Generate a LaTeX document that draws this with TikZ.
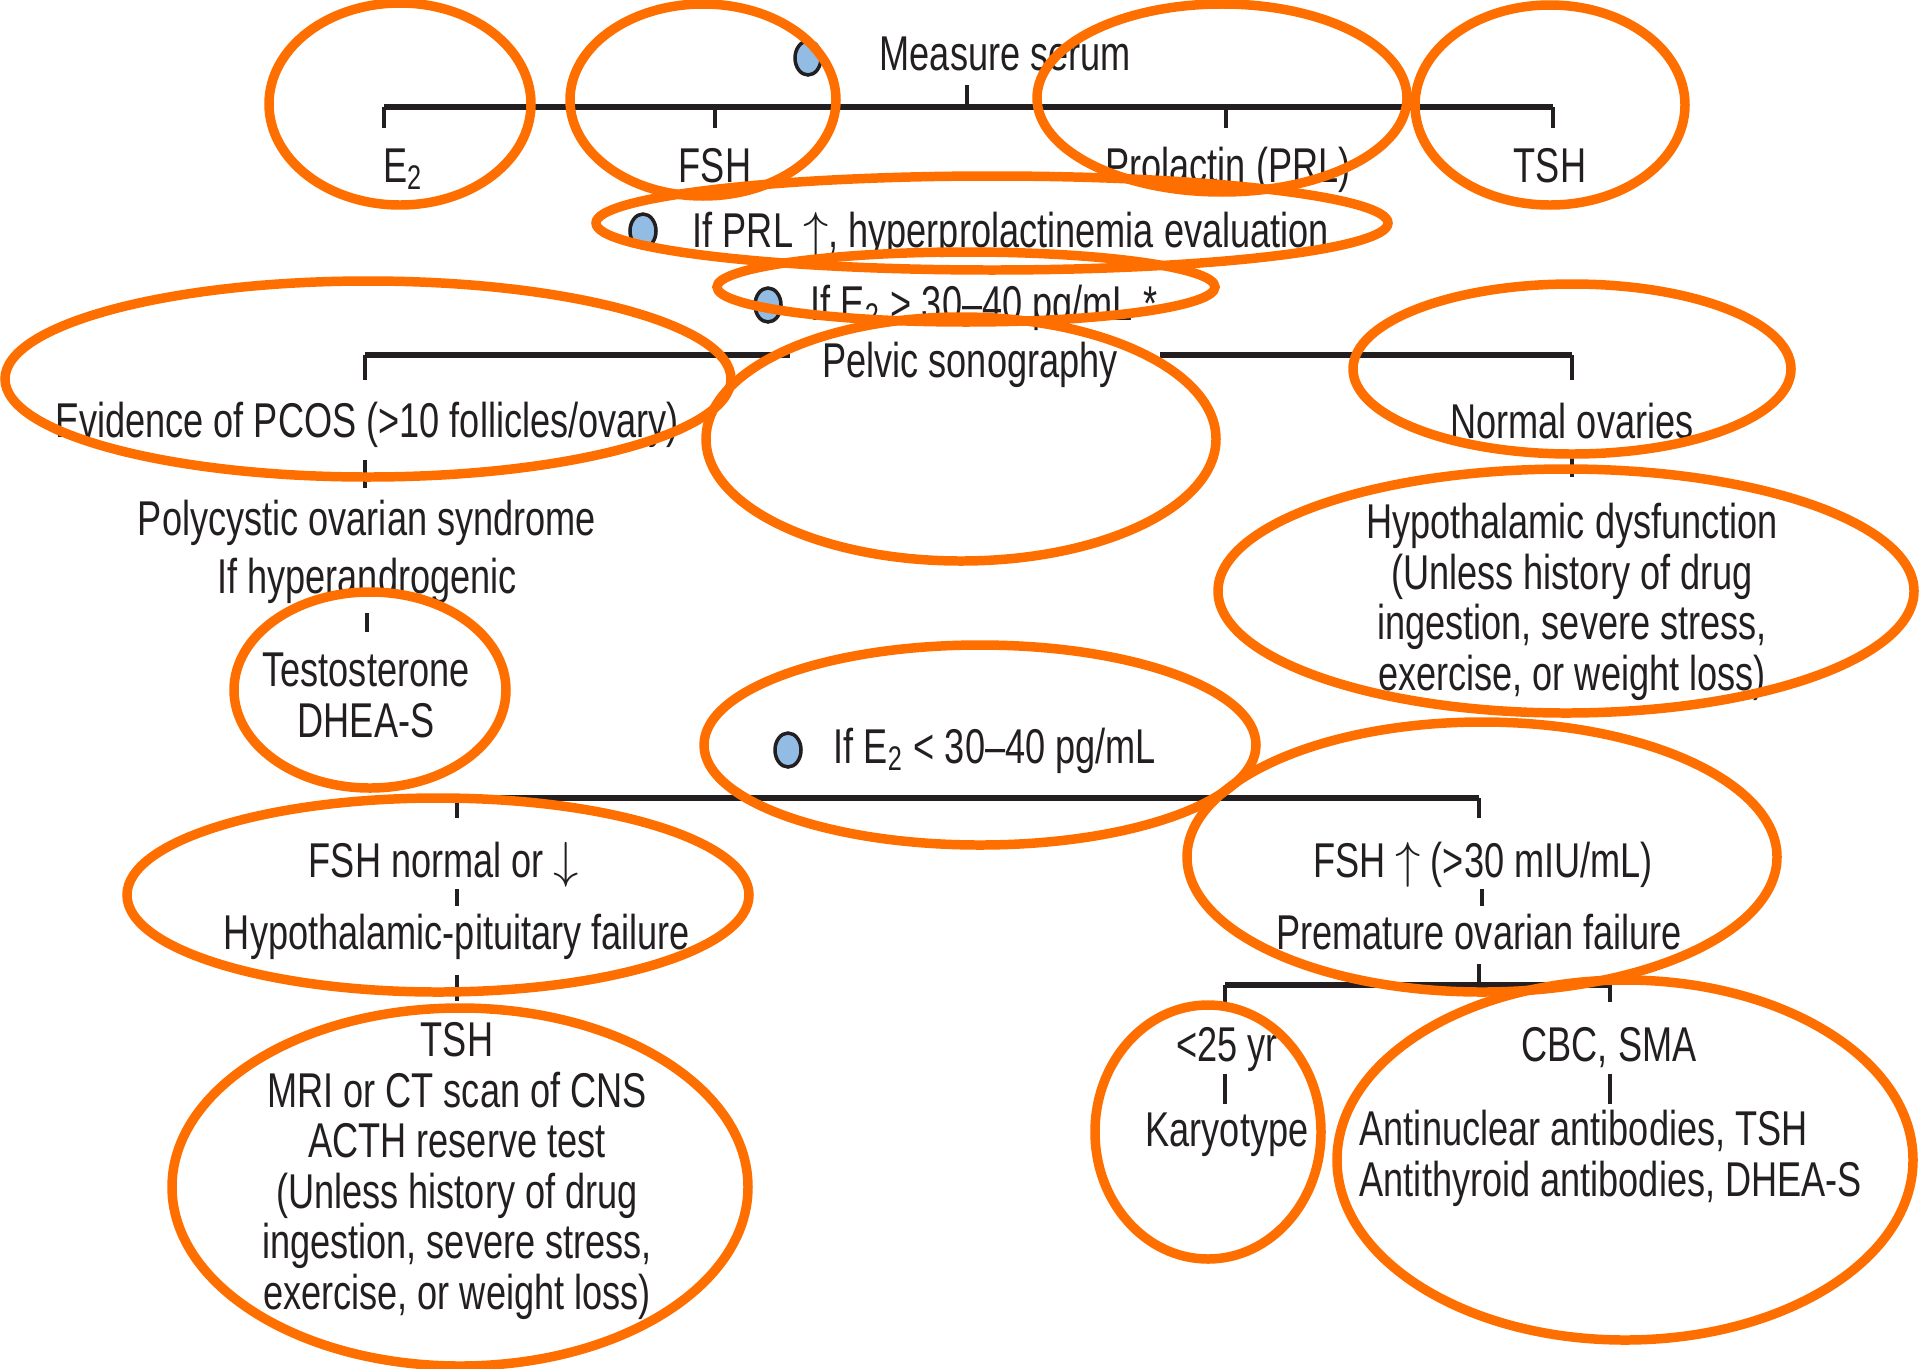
\documentclass[tikz,border=0pt]{standalone}
\usepackage{fontspec}
\setmainfont[FakeStretch=0.74]{Liberation Sans}
\definecolor{ink}{HTML}{231F20}
\definecolor{hilite}{RGB}{255,111,0}
\definecolor{dotblue}{HTML}{93BCE5}
\tikzset{
  lbl/.style={text=ink, inner sep=0pt, font=\fontsize{13.9}{14.37}\selectfont, align=center},
  bar/.style={ink, line width=1.7pt},
  drop/.style={ink, line width=1.4pt},
  ring/.style={hilite, line width=2.7pt},
  dot/.style={draw=ink, fill=dotblue, line width=1pt},
}

\begin{document}
\begin{tikzpicture}
    \useasboundingbox (0,0) rectangle (19.2,-13.68);
    % Serum tests
    \draw[dot] (8.08,-0.58) ellipse [x radius=0.13, y radius=0.17];
    \node[lbl, anchor=base west] (serum) at (8.79,-0.70) {Measure serum};
    \node[lbl, anchor=base] (e2) at (4.03,-1.82) {E\textsubscript{2}};
    \node[lbl, anchor=base] (fsh) at (7.15,-1.82) {FSH};
    \node[lbl, anchor=base] (prl) at (12.28,-1.82) {Prolactin (PRL)};
    \node[lbl, anchor=base] (tsh) at (15.50,-1.82) {TSH};
    \coordinate (sTop) at (9.67,-0.85);
    \coordinate (sL) at (3.84,-1.07);
    \coordinate (sR) at (15.53,-1.07);
    \draw[drop] (sTop) -- (sTop |- sL);
    \draw[bar] (sL) -- (sR);
    \draw[drop] (sL) -- ++(0,-0.21);
    \draw[drop] (fsh |- sL) -- ++(0,-0.21);
    \draw[drop] (12.26,-1.07) -- ++(0,-0.21);
    \draw[drop] (sR) -- ++(0,-0.21);
    % Branch conditions
    \draw[dot] (6.43,-2.31) ellipse [x radius=0.13, y radius=0.17];
    \node[lbl, anchor=base west] (prleval) at (6.92,-2.47) {If PRL $\uparrow$, hyperprolactinemia evaluation};
    \draw[dot] (7.68,-3.05) ellipse [x radius=0.13, y radius=0.17];
    \node[lbl, anchor=base west] (e2hi) at (8.10,-3.20) {If E\textsubscript{2} > 30–40 pg/mL *};
    % Pelvic sonography
    \node[lbl, anchor=base] (pelvic) at (9.70,-3.77) {Pelvic sonography};
    \coordinate (pL) at (3.65,-3.55);
    \coordinate (pR) at (15.72,-3.55);
    \draw[bar] (pL) -- (7.90,-3.55);
    \draw[bar] (11.60,-3.55) -- (pR);
    \draw[drop] (pL) -- ++(0,-0.25);
    \draw[drop] (pR) -- ++(0,-0.25);
    \node[lbl, anchor=base] (pcos) at (3.67,-4.37) {Evidence of PCOS (>10 follicles/ovary)};
    \draw[drop] (3.65,-4.60) -- (3.65,-4.88);
    \node[lbl, anchor=base] (pco) at (3.67,-5.93) {Polycystic ovarian syndrome\\[0.075cm]If hyperandrogenic};
    \draw[drop] (3.67,-6.13) -- (3.67,-6.32);
    \node[lbl, anchor=base] (testo) at (3.66,-7.37) {Testosterone\\DHEA-S};
    \node[lbl, anchor=base] (normal) at (15.72,-4.38) {Normal ovaries};
    \draw[drop] (15.72,-4.53) -- (15.72,-4.77);
    \node[lbl, anchor=base] (hypo) at (15.72,-6.90) {Hypothalamic dysfunction\\(Unless history of drug\\ingestion, severe stress,\\exercise, or weight loss)};
    % Low estradiol
    \draw[dot] (7.88,-7.50) ellipse [x radius=0.13, y radius=0.17];
    \node[lbl, anchor=base west] (e2lo) at (8.33,-7.63) {If E\textsubscript{2} < 30–40 pg/mL};
    \coordinate (lL) at (4.57,-7.98);
    \coordinate (lR) at (14.79,-7.98);
    \draw[bar] (lL) -- (lR);
    \draw[drop] (lL) -- ++(0,-0.20);
    \draw[drop] (lR) -- ++(0,-0.20);
    \node[lbl, anchor=base] (fshlo) at (4.44,-8.77) {FSH normal or $\downarrow$};
    \draw[drop] (4.57,-8.89) -- (4.57,-9.06);
    \node[lbl, anchor=base] (hpf) at (4.57,-9.49) {Hypothalamic-pituitary failure};
    \draw[drop] (4.57,-9.75) -- (4.57,-10.01);
    \node[lbl, anchor=base] (cns) at (4.57,-13.09) {TSH\\MRI or CT scan of CNS\\ACTH reserve test\\(Unless history of drug\\ingestion, severe stress,\\exercise, or weight loss)};
    \node[lbl, anchor=base] (fshhi) at (14.83,-8.77) {FSH $\uparrow$ (>30 mIU/mL)};
    \draw[drop] (14.82,-8.89) -- (14.82,-9.06);
    \node[lbl, anchor=base] (pof) at (14.79,-9.49) {Premature ovarian failure};
    \coordinate (fTop) at (14.79,-9.64);
    \coordinate (fL) at (12.25,-9.85);
    \coordinate (fR) at (16.10,-9.85);
    \draw[drop] (fTop) -- (fTop |- fL);
    \draw[bar] (fL) -- (fR);
    \draw[drop] (fL) -- ++(0,-0.17);
    \draw[drop] (fR) -- ++(0,-0.17);
    \node[lbl, anchor=base] (young) at (12.27,-10.61) {<25 yr};
    \draw[drop] (12.25,-10.74) -- (12.25,-11.04);
    \node[lbl, anchor=base] (karyo) at (12.27,-11.46) {Karyotype};
    \node[lbl, anchor=base] (cbc) at (16.09,-10.61) {CBC, SMA};
    \draw[drop] (16.10,-10.74) -- (16.10,-11.04);
    \node[lbl, anchor=base west, align=left] (antib) at (13.59,-11.96) {Antinuclear antibodies, TSH\\Antithyroid antibodies, DHEA-S};
    % Highlight rings
    \draw[ring] (4.00,-1.04) ellipse [x radius=1.31, y radius=1.01];
    \draw[ring] (7.03,-1.00) ellipse [x radius=1.33, y radius=0.96];
    \draw[ring] (12.22,-0.98) ellipse [x radius=1.85, y radius=0.94];
    \draw[ring] (15.50,-1.05) ellipse [x radius=1.35, y radius=1.00];
    \draw[ring] (9.92,-2.23) ellipse [x radius=3.96, y radius=0.47];
    \draw[ring] (9.66,-2.87) ellipse [x radius=2.49, y radius=0.35];
    \draw[ring] (9.61,-4.39) ellipse [x radius=2.55, y radius=1.22];
    \draw[ring] (3.68,-3.79) ellipse [x radius=3.63, y radius=0.98];
    \draw[ring] (3.70,-6.90) ellipse [x radius=1.36, y radius=0.98];
    \draw[ring] (15.72,-3.69) ellipse [x radius=2.19, y radius=0.85];
    \draw[ring] (15.66,-5.91) ellipse [x radius=3.48, y radius=1.22];
    \draw[ring] (9.80,-7.45) ellipse [x radius=2.76, y radius=1.00];
    \draw[ring] (4.38,-8.95) ellipse [x radius=3.11, y radius=0.97];
    \draw[ring] (4.60,-11.87) ellipse [x radius=2.88, y radius=1.79];
    \draw[ring] (14.82,-8.57) ellipse [x radius=2.95, y radius=1.35];
    \draw[ring] (12.08,-11.32) ellipse [x radius=1.13, y radius=1.27];
    \draw[ring] (16.25,-11.60) ellipse [x radius=2.88, y radius=1.80];
\end{tikzpicture}
\end{document}
